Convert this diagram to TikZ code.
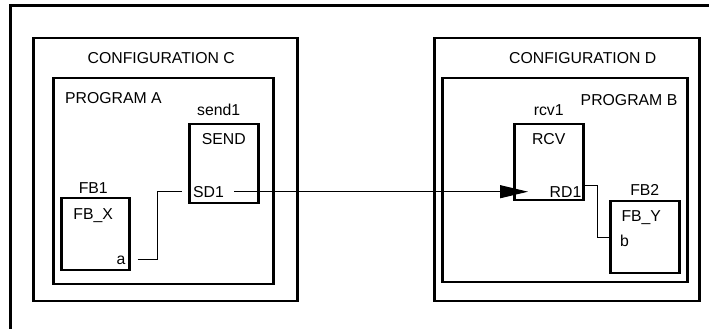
\documentclass[tikz,border=0pt]{standalone}
\usepackage{fontspec}
\setmainfont{Liberation Sans}
\usetikzlibrary{arrows.meta,positioning}

\begin{document}
\begin{tikzpicture}[x=1pt,y=1pt,font=\fontsize{15.8}{18}\selectfont,
  box/.style 2 args={draw,line width=2.5pt,anchor=north west,minimum width=#1,minimum height=#2,inner sep=0pt},
  txt/.style={inner sep=0pt},
  wire/.style={line width=1pt},
  arr/.style={line width=1pt,-{Triangle[length=28pt,width=13pt]}}]
\useasboundingbox (0,0) rectangle (709,329);
\clip (0,0) rectangle (709,329);
\draw[line width=3pt] (10,-20) rectangle (730,323);
\node[box={264pt}{263pt}] (confC) at (32,292) {};
\node[box={220pt}{206pt}] (progA) at (52,252) {};
\node[box={69pt}{79pt}] (send) at (188,206) {};
\node[box={68pt}{72pt}] (fbx) at (60,132) {};
\node[box={265pt}{263pt}] (confD) at (433,292) {};
\node[box={245pt}{204pt}] (progB) at (441,252) {};
\node[box={69pt}{76pt}] (rcv) at (513,206) {};
\node[box={69pt}{72pt}] (fby) at (609,129) {};
\node[txt] (tconfC) at ([xshift=-4pt,yshift=-21pt]confC.north) {CONFIGURATION C};
\node[txt] (tconfD) at ([xshift=16pt,yshift=-21pt]confD.north) {CONFIGURATION D};
\node[txt,anchor=west] (tprogA) at ([xshift=13pt,yshift=-21pt]progA.north west) {PROGRAM A};
\node[txt,anchor=east] (tprogB) at ([xshift=-11pt,yshift=-23pt]progB.north east) {PROGRAM B};
\node[txt,above=7pt of send.north,xshift=-5pt] (lsend) {send1};
\node[txt,below=10pt of send.north] (tsend) {SEND};
\node[txt,above=7.5pt of rcv.north] (lrcv) {rcv1};
\node[txt,below=10pt of rcv.north] (trcv) {RCV};
\node[txt,above=3.5pt of fbx.north,xshift=-2pt] (lfbx) {FB1};
\node[txt,below=11pt of fbx.north,xshift=-2pt] (tfbx) {FB\_X};
\node[txt,above=4.5pt of fby.north] (lfby) {FB2};
\node[txt,below=10pt of fby.north,xshift=-3.5pt] (tfby) {FB\_Y};
\node[txt,above left=7pt and 5pt of fbx.south east] (pa) {a};
\node[txt,right=11pt of fby.west,yshift=-4pt] (pb) {b};
\node[txt,above right=7pt and 5pt of send.south west] (psd) {SD1};
\node[txt,above left=4pt and 3pt of rcv.south east] (prd) {RD1};
\path (rcv.west |- psd.east) ++(15,0) coordinate (rin);
\draw[wire] ([xshift=12pt]pa.east) -- ++(20,0) |- ([xshift=-11pt]psd.west);
\draw[arr] ([xshift=10pt]psd.east) -- (rin);
\draw[wire] ([yshift=16pt]rcv.south east) -- ++(13,0) |- (fby.west);
\end{tikzpicture}
\end{document}
